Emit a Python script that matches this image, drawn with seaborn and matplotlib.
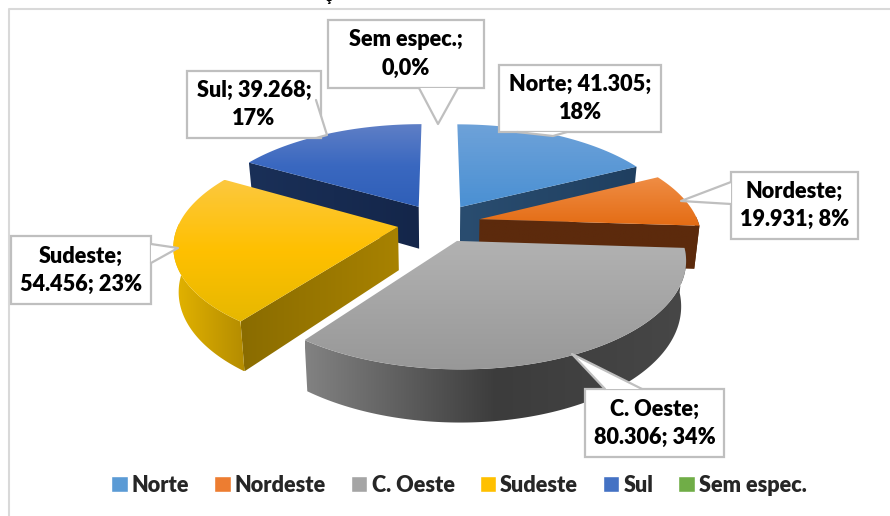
import numpy as np
import matplotlib
matplotlib.use('Agg')
import matplotlib.pyplot as plt
import seaborn as sns
from matplotlib.colors import LinearSegmentedColormap
from matplotlib.patches import Polygon, Patch

# Data
regions = ['Norte', 'Nordeste', 'C. Oeste', 'Sudeste', 'Sul', 'Sem espec.']
values = [41305, 19931, 80306, 54456, 39268, 0]
labels = ['Norte; 41.305;\n18%', 'Nordeste;\n19.931; 8%', 'C. Oeste;\n80.306; 34%',
          'Sudeste;\n54.456; 23%', 'Sul; 39.268;\n17%', 'Sem espec.;\n0,0%']
legend_colors = ['#5b9bd5', '#ed7d31', '#a5a5a5', '#ffc000', '#4472c4', '#70ad47']

# Colours of each slice: top face, cut wall, outer wall
top_colors = [['#6ea2d9', '#4a90d3'], ['#ef8d45', '#e46c14'], ['#b2b2b2', '#989898'],
              ['#fcc83e', '#ffc000', '#e6b800'], ['#5f7fc6', '#3a68c0', '#2f5fb8'], ['#70ad47', '#70ad47']]
cut_colors = [['#2a4d70', '#1f3f60'], ['#5c2a0c', '#5c2a0c'], ['#555555', '#555555'],
              ['#8a6c00', '#a88200'], ['#1a3058', '#14264a'], ['#3c6a25', '#3c6a25']]
wall_colors = [['#2a4d70', '#1f3f60'], ['#5c2a0c', '#5c2a0c'], ['#828282', '#3c3c3c', '#474747'],
               ['#e4b400', '#b48c00'], ['#1a3058', '#14264a'], ['#3c6a25', '#3c6a25']]
draw_order = [4, 0, 1, 3, 2, 5]

# Pie geometry in pixels
cx, cy, rx, ry = 439, 223, 219, 101
persp, depth, explode, shrink = 0.163, 43, 0.19, 0.98

# Callouts: box (x0, x1, y0, y1) and pointer (base, tip, base)
boxes = [(499, 661, 65, 132), (731, 858, 172, 239), (585, 724, 389, 457),
         (11, 151, 236, 304), (187, 321, 71, 138), (328, 484, 20, 88)]
pointers = [[(517, 132), (553, 136), (567, 132)], [(731, 182), (681, 201), (731, 204)],
            [(605, 389), (572, 354), (642, 389)], [(151, 244), (178, 248), (151, 263)],
            [(316, 100), (327, 135), (316, 138)], [(419, 88), (438, 124), (458, 88)]]

sns.set_theme(style='white')
plt.rcParams['font.family'] = ['Lato', 'DejaVu Sans']

fig = plt.figure(figsize=(8.9, 5.16), dpi=100)
ax = fig.add_axes([0, 0, 1, 1])
z = [2]


def top_point(theta, mid, r=1.0):
    # theta in degrees, clockwise from the back of the pie
    t, m = np.radians(theta), np.radians(mid)
    u = r * np.sin(t) + explode * np.sin(m)
    v = -r * np.cos(t) - explode * np.cos(m)
    s = 1 / (1 - persp * v)
    return np.array([cx + rx * u * s, cy + ry * v * s, s])


def low_point(p):
    return np.array([cx + (p[0] - cx) * shrink, p[1] + depth * p[2]])


def fill_gradient(pts, colors, vertical=True):
    pts = np.array(pts)
    patch = Polygon(pts, closed=True, fc='none', ec='none')
    ax.add_patch(patch)
    cmap = LinearSegmentedColormap.from_list('g', colors)
    g = np.linspace(0, 1, 256)
    g = g.reshape(-1, 1) if vertical else g.reshape(1, -1)
    extent = (pts[:, 0].min(), pts[:, 0].max(), pts[:, 1].max(), pts[:, 1].min())
    im = ax.imshow(g, cmap=cmap, extent=extent, aspect='auto', zorder=z[0], interpolation='bilinear')
    im.set_clip_path(patch)
    z[0] += 1


# Slice angles come from the values
total = sum(values)
sweeps = [v / total * 360 for v in values]
starts = np.cumsum([0] + sweeps[:-1])

for i in draw_order:
    if values[i] == 0:
        continue
    a0, a1 = starts[i], starts[i] + sweeps[i]
    mid = (a0 + a1) / 2
    arc = [top_point(a, mid) for a in np.linspace(a0, a1, 120)]
    apex = top_point(0, mid, r=0)

    # cut walls, only when they face the viewer
    for a, sign in ((a0, -1), (a1, 1)):
        if np.sin(np.radians(a)) * sign <= 0:
            continue
        rim = top_point(a, mid)
        fill_gradient([apex[:2], rim[:2], low_point(rim), low_point(apex)], cut_colors[i], vertical=False)

    # outer wall, front half only
    front = [a for a in np.linspace(a0, a1, 240) if np.cos(np.radians(a)) < 0.03]
    if front:
        up = [top_point(a, mid) for a in front]
        down = [low_point(p) for p in up]
        pts = [p[:2] for p in up] + down[::-1]
        fill_gradient(pts, wall_colors[i], vertical=False)

    # top face
    fill_gradient([apex[:2]] + [p[:2] for p in arc], top_colors[i])

# Callouts
for label, (x0, x1, y0, y1), ptr in zip(labels, boxes, pointers):
    ax.add_patch(Polygon([(x0, y0), (x1, y0), (x1, y1), (x0, y1)], closed=True, fc='white',
                         ec='#bfbfbf', lw=1.6, zorder=50))
    ax.add_patch(Polygon(ptr, closed=True, fc='white', ec='none', zorder=51))
    ax.plot([p[0] for p in ptr], [p[1] for p in ptr], color='#bfbfbf', lw=1.6, zorder=52)
    ax.text((x0 + x1) / 2, (y0 + y1) / 2, label, ha='center', va='center', fontsize=15.6,
            fontweight='heavy', color='black', linespacing=1.42, zorder=53)

# Chart frame and the cut off title above it
ax.plot([9, 9, 890], [516, 9, 9], color='#d9d9d9', lw=1.5, zorder=1)
ax.text(328, -3, '\u00e7', ha='center', va='center', fontsize=11, fontweight='bold', color='black')

handles = [Patch(facecolor=c, label=r) for c, r in zip(legend_colors, regions)]
ax.legend(handles=handles, loc='center', bbox_to_anchor=(459 / 890, 1 - 485 / 516), ncol=6, frameon=False,
          prop={'family': 'Lato', 'weight': 'heavy', 'size': 15.6}, handlelength=0.75, handleheight=0.75,
          handletextpad=0.2, columnspacing=1.15, borderpad=0)

ax.set_xlim(0, 890)
ax.set_ylim(516, 0)
ax.axis('off')
fig.savefig('out.png', dpi=100, facecolor='white')
